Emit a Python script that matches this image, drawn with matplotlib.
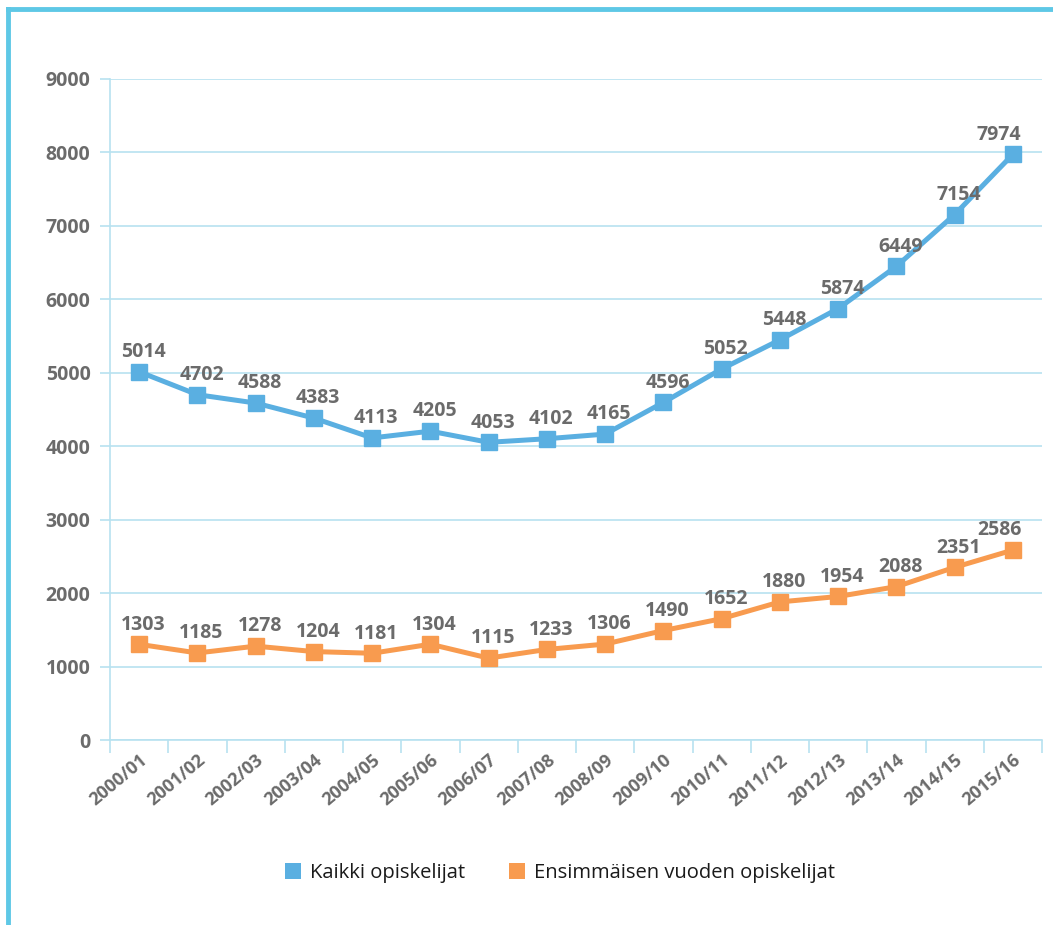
import matplotlib.pyplot as plt
from matplotlib.lines import Line2D
from matplotlib.patches import Patch

years = ['2000/01', '2001/02', '2002/03', '2003/04', '2004/05', '2005/06',
         '2006/07', '2007/08', '2008/09', '2009/10', '2010/11', '2011/12',
         '2012/13', '2013/14', '2014/15', '2015/16']
kaikki = [5014, 4702, 4588, 4383, 4113, 4205, 4053, 4102, 4165, 4596,
          5052, 5448, 5874, 6449, 7154, 7974]
ensimmaiset = [1303, 1185, 1278, 1204, 1181, 1304, 1115, 1233, 1306, 1490,
               1652, 1880, 1954, 2088, 2351, 2586]
series_names = ['Kaikki opiskelijat', 'Ensimmäisen vuoden opiskelijat']

blue = '#5aafe1'
orange = '#f89b4f'
grid_c = '#b7e2f0'
frame_c = '#5ec8e6'
text_c = '#6b6b6b'

plt.rcParams['font.family'] = ['Open Sans', 'DejaVu Sans']

fig = plt.figure(figsize=(10.53, 9.25), dpi=100)
ax = fig.add_axes([110 / 1053, 1 - 740 / 925, 932 / 1053, 661 / 925])

x = range(len(years))
for vals, color in [(kaikki, blue), (ensimmaiset, orange)]:
    ax.plot(x, vals, color=color, lw=3.6, marker='s', markersize=11.5,
            solid_joinstyle='miter', zorder=3)
    for i, v in enumerate(vals):
        last = i == len(vals) - 1
        ax.annotate(str(v), (i, v), xytext=(6 if last else 3, 7),
                    textcoords='offset points',
                    ha='right' if last else 'center', va='bottom',
                    fontsize=14, fontweight='bold', color=text_c)

ax.set_xlim(-0.5, len(years) - 0.5)
ax.set_ylim(0, 9000)
ax.set_yticks(range(0, 9001, 1000))
ax.set_xticks(list(x))
ax.set_xticklabels(years, rotation=40, ha='right', rotation_mode='anchor',
                   fontsize=13, fontweight='bold', color=text_c)
ax.set_xticks([i - 0.5 for i in range(len(years) + 1)], minor=True)
ax.tick_params(axis='x', which='major', length=0, pad=8)
ax.tick_params(axis='x', which='minor', length=9, color=grid_c, width=1.2)
ax.tick_params(axis='y', length=7, color=grid_c, width=1.2,
               labelsize=14, labelcolor=text_c, pad=7)
for lab in ax.get_yticklabels():
    lab.set_fontweight('bold')

ax.yaxis.grid(True, color=grid_c, lw=1.2)
ax.set_axisbelow(True)
for s in ['top', 'right']:
    ax.spines[s].set_visible(False)
for s in ['left', 'bottom']:
    ax.spines[s].set_color(grid_c)
    ax.spines[s].set_linewidth(1.2)

handles = [Patch(facecolor=blue, edgecolor='none'),
           Patch(facecolor=orange, edgecolor='none')]
fig.legend(handles, series_names, loc='center',
           bbox_to_anchor=(560 / 1053, 1 - 873 / 925),
           ncol=2, frameon=False, fontsize=14.5, handlelength=0.8,
           handleheight=0.8, columnspacing=2.2, handletextpad=0.45,
           labelcolor='#1a1a1a')

# light blue frame on top and left edges
fig.add_artist(Line2D([8 / 1053, 1], [1 - 9 / 925, 1 - 9 / 925],
                      transform=fig.transFigure, color=frame_c, lw=3.5))
fig.add_artist(Line2D([8 / 1053, 8 / 1053], [0, 1 - 9 / 925],
                      transform=fig.transFigure, color=frame_c, lw=3.5))

fig.savefig('out.png', dpi=100)
